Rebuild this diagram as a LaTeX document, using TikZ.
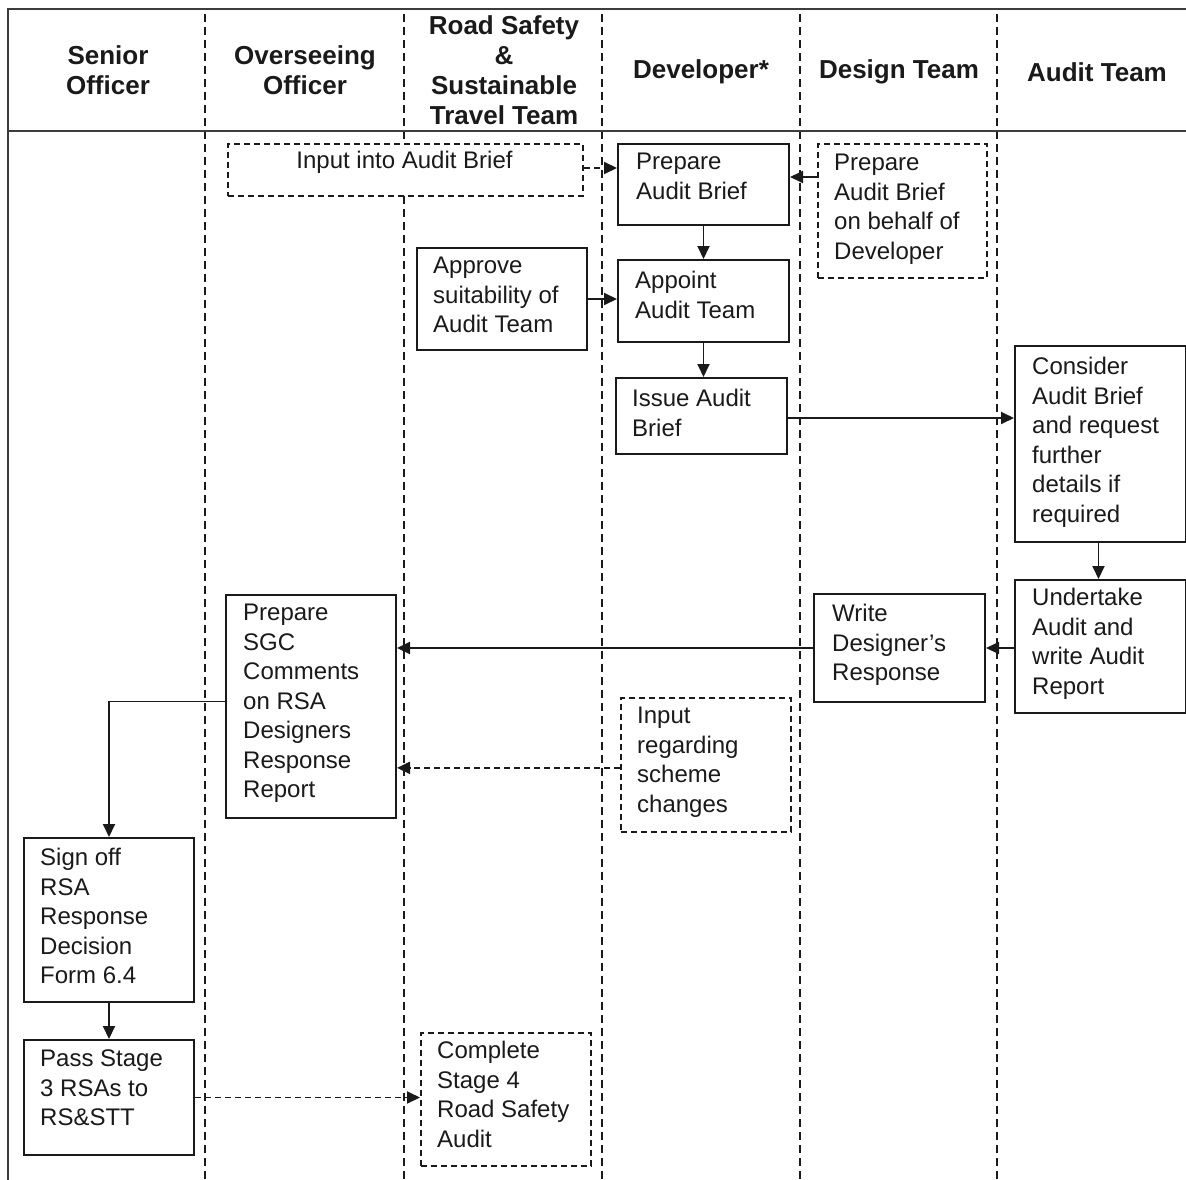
\documentclass[tikz,border=0pt]{standalone}
\usepackage{fontspec}
\setmainfont{Liberation Sans}
\usetikzlibrary{arrows.meta}
\definecolor{ink}{HTML}{1A1A1A}
\tikzset{
  boxsolid/.style={draw=ink, line width=2pt, fill=white, rectangle, inner sep=0pt, anchor=north west},
  boxdash/.style={draw=ink, line width=1.8pt, fill=white, rectangle, inner sep=0pt, anchor=north west, dash pattern=on 6pt off 4pt},
  boxtext/.style={anchor=north west, inner sep=0pt, align=left, text=ink, font=\fontsize{24}{29.5}\selectfont},
  headtext/.style={inner sep=0pt, align=center, text=ink, font=\bfseries\fontsize{26}{30}\selectfont},
  lane/.style={draw=ink, line width=1.6pt, dash pattern=on 8pt off 5pt},
  frame/.style={draw=ink!85, line width=2.6pt},
  arr/.style={draw=ink, line width=1.9pt, -{Triangle[length=13pt,width=12pt]}},
  darr/.style={arr, dash pattern=on 6pt off 4pt}
}
\newcommand{\mybox}[7]{%
  \node[#6, minimum width=#4pt-#2pt, minimum height=#5pt-#3pt] (#1) at (#2,#3) {};}
\begin{document}
\begin{tikzpicture}[x=1pt,y=-1pt]
\useasboundingbox (0,0) rectangle (1186,1180);
% lanes
\foreach \lx in {205,404,602,800,997}{
  \draw[lane] (\lx,14) -- (\lx,1180);
}
% frame
\draw[frame] (8,9) -- (1186,9);
\draw[frame] (8,131) -- (1186,131);
\draw[frame] (8,8) -- (8,1180);
% headers
\node[headtext] (h1) at (108,70) {Senior\\Officer};
\node[headtext] (h2) at (305,70) {Overseeing\\Officer};
\node[headtext] (h3) at (504,70) {Road Safety\\\&\\Sustainable\\Travel Team};
\node[headtext] (h4) at (701,72) {Developer*};
\node[headtext] (h5) at (899,72) {Design Team};
\node[headtext] (h6) at (1097,72) {Audit Team};
% boxes
\mybox{inAB}{227}{143}{582}{195}{boxdash}{}
\node[boxtext, anchor=north] (inABt) at (404.5,151) {Input into Audit Brief};
\mybox{prepAB}{617}{143}{788}{224}{boxsolid}{}
\node[boxtext] (prepABt) at (636,153) {Prepare\\Audit Brief};
\mybox{prepABd}{817}{143}{986}{277}{boxdash}{}
\node[boxtext] (prepABdt) at (834,154) {Prepare\\Audit Brief\\on behalf of\\Developer};
\mybox{approve}{416}{247}{586}{349}{boxsolid}{}
\node[boxtext] (approvet) at (433,257) {Approve\\suitability of\\Audit Team};
\mybox{appoint}{617}{259}{788}{341}{boxsolid}{}
\node[boxtext] (appointt) at (635,271) {Appoint\\Audit Team};
\mybox{issue}{615}{377}{786}{453}{boxsolid}{}
\node[boxtext] (issuet) at (632,389) {Issue Audit\\Brief};
\mybox{consider}{1014}{345}{1185}{541}{boxsolid}{}
\node[boxtext] (considert) at (1032,357) {Consider\\Audit Brief\\and request\\further\\details if\\required};
\mybox{undertake}{1014}{579}{1185}{712}{boxsolid}{}
\node[boxtext] (undertaket) at (1032,588) {Undertake\\Audit and\\write Audit\\Report};
\mybox{write}{813}{593}{984}{701}{boxsolid}{}
\node[boxtext] (writet) at (832,604) {Write\\Designer’s\\Response};
\mybox{sgc}{225}{594}{395}{817}{boxsolid}{}
\node[boxtext] (sgct) at (243,604) {Prepare\\SGC\\Comments\\on RSA\\Designers\\Response\\Report};
\mybox{inreg}{620}{697}{790}{831}{boxdash}{}
\node[boxtext] (inregt) at (637,707) {Input\\regarding\\scheme\\changes};
\mybox{signoff}{23}{837}{193}{1001}{boxsolid}{}
\node[boxtext] (signofft) at (40,848) {Sign off\\RSA\\Response\\Decision\\Form 6.4};
\mybox{pass}{23}{1039}{193}{1154}{boxsolid}{}
\node[boxtext] (passt) at (40,1050) {Pass Stage\\3 RSAs to\\RS\&STT};
\mybox{complete}{420}{1032}{590}{1165}{boxdash}{}
\node[boxtext] (completet) at (437,1041) {Complete\\Stage 4\\Road Safety\\Audit};
% connectors
\draw[darr] ([yshift=-25pt]inAB.north east) -- ([yshift=-25pt]inAB.north east -| prepAB.west);
\draw[arr] ([yshift=-34pt]prepABd.north west) -- ([yshift=-34pt]prepABd.north west -| prepAB.east);
\draw[arr] (prepAB.south) -- (prepAB.south |- appoint.north);
\draw[arr] (approve.east) -- (approve.east -| appoint.west);
\draw[arr] (appoint.south) -- (appoint.south |- issue.north);
\draw[arr] ([yshift=-2pt]issue.east) -- ([yshift=-2pt]issue.east -| consider.west);
\draw[arr] ([xshift=-2pt]consider.south) -- ([xshift=-2pt]consider.south |- undertake.north);
\draw[arr] (undertake.west |- write.east) -- (write.east);
\draw[arr] (write.west) -- (write.west -| sgc.east);
\draw[darr] ([yshift=-3pt]inreg.west) -- ([yshift=-3pt]inreg.west -| sgc.east);
\draw[arr] ([yshift=5pt]sgc.west) -| (signoff.north);
\draw[arr] (signoff.south) -- (pass.north);
\draw[darr] (pass.east) -- (pass.east -| complete.west);
\end{tikzpicture}
\end{document}
